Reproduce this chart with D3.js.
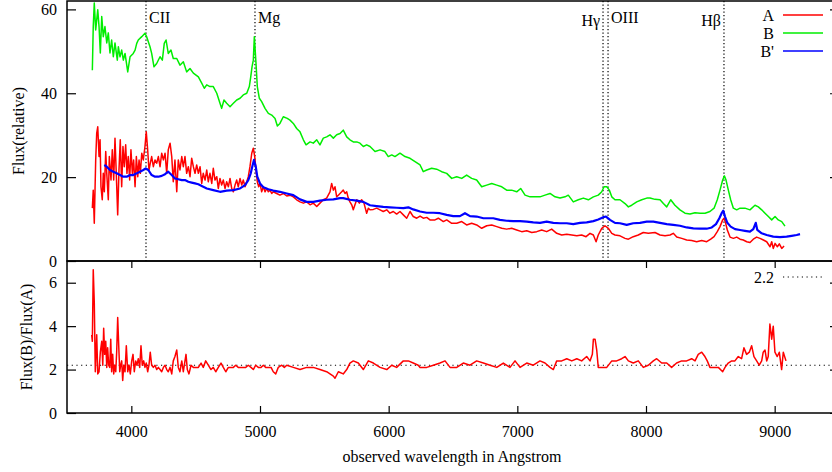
<!DOCTYPE html>
<html>
<head>
<meta charset="utf-8">
<script src="https://cdn.jsdelivr.net/npm/d3@7"></script>
<style>
  body { margin: 0; background: #fff; }
  text { font-family: "Liberation Serif", "Times New Roman", serif; font-size: 16px; fill: #000; }
</style>
</head>
<body>
<script>
// spectrum A (red), [wavelength, flux]
const specA = [[3697,12.6],[3704,16.9],[3712,9.0],[3723,24.1],[3731,30.5],[3739,32.0],[3749,24.9],[3757,28.9],[3764,17.7],[3774,14.6],[3782,20.9],[3790,16.5],[3801,26.1],[3809,20.9],[3821,14.6],[3829,24.9],[3842,19.3],[3852,26.5],[3863,19.3],[3873,29.3],[3883,20.9],[3894,11.0],[3904,21.7],[3914,28.9],[3925,17.7],[3935,27.3],[3945,22.5],[3956,27.7],[3966,20.9],[3976,24.9],[3987,19.3],[3997,26.5],[4008,20.9],[4018,24.1],[4029,17.7],[4039,24.9],[4050,20.1],[4060,24.1],[4070,20.9],[4081,25.7],[4093,24.1],[4106,27.3],[4116,30.8],[4127,26.5],[4137,21.7],[4147,23.3],[4158,24.9],[4171,22.5],[4184,24.1],[4197,23.3],[4210,24.9],[4223,22.5],[4236,25.7],[4249,24.1],[4262,25.7],[4275,20.9],[4287,26.5],[4301,28.1],[4314,24.9],[4326,18.9],[4339,24.1],[4353,16.5],[4365,24.1],[4378,21.7],[4392,24.9],[4404,22.5],[4417,24.9],[4430,20.9],[4443,22.5],[4456,20.1],[4469,24.5],[4482,22.5],[4495,20.9],[4508,22.9],[4521,20.9],[4534,22.5],[4547,18.5],[4559,20.9],[4573,19.3],[4586,21.7],[4598,18.9],[4611,20.9],[4625,18.5],[4637,22.1],[4650,19.3],[4664,20.1],[4676,17.3],[4689,19.7],[4702,18.1],[4715,19.3],[4728,17.3],[4741,18.9],[4754,17.7],[4767,19.7],[4780,17.3],[4793,16.5],[4806,18.1],[4819,19.3],[4831,17.7],[4845,19.7],[4858,18.1],[4870,19.3],[4884,17.7],[4897,18.9],[4909,20.1],[4922,22.5],[4936,25.7],[4948,26.9],[4959,24.9],[4969,21.7],[4979,18.9],[4990,17.7],[5000,18.5],[5013,16.5],[5026,17.7],[5039,16.5],[5052,17.3],[5065,16.5],[5078,16.9],[5091,16.1],[5103,16.5],[5130,16.1],[5155,15.7],[5181,16.1],[5208,15.5],[5233,15.7],[5259,15.3],[5285,14.6],[5311,14.1],[5337,13.8],[5363,14.1],[5389,13.4],[5414,13.8],[5441,13.0],[5466,13.8],[5492,14.6],[5518,15.0],[5544,16.5],[5557,18.5],[5570,16.9],[5583,17.7],[5596,15.3],[5609,15.7],[5622,16.1],[5635,16.5],[5647,16.9],[5661,16.1],[5674,16.5],[5686,15.0],[5699,14.1],[5713,13.4],[5725,12.2],[5738,13.4],[5752,14.6],[5772,13.8],[5790,14.6],[5808,13.8],[5829,11.4],[5842,12.6],[5855,12.2],[5881,12.3],[5907,12.6],[5933,12.2],[5958,11.8],[5985,12.2],[6010,11.4],[6036,11.8],[6062,11.2],[6088,11.8],[6114,11.0],[6140,10.2],[6166,11.8],[6191,10.6],[6218,10.2],[6244,10.7],[6269,10.2],[6296,10.4],[6321,9.8],[6360,9.8],[6386,10.2],[6425,9.4],[6451,9.8],[6490,9.0],[6529,9.0],[6568,9.4],[6606,8.6],[6645,9.0],[6684,8.6],[6723,7.8],[6762,8.4],[6801,8.6],[6840,8.2],[6879,7.8],[6917,7.6],[6956,7.8],[6995,7.4],[7034,7.0],[7073,7.2],[7112,6.8],[7151,7.0],[7189,7.4],[7228,7.0],[7267,7.6],[7306,6.6],[7345,6.2],[7384,6.4],[7423,6.2],[7462,6.0],[7500,6.2],[7534,5.8],[7565,6.6],[7591,6.2],[7612,4.6],[7629,6.2],[7656,7.8],[7681,8.4],[7707,7.8],[7734,6.6],[7759,6.2],[7798,6.0],[7837,5.4],[7863,5.2],[7901,5.8],[7940,6.2],[7979,6.8],[8018,6.6],[8070,6.8],[8109,6.2],[8148,6.0],[8187,6.2],[8212,6.6],[8239,5.7],[8278,5.4],[8316,5.0],[8355,4.9],[8394,4.6],[8433,4.9],[8472,4.6],[8503,5.2],[8529,5.8],[8554,7.0],[8575,8.2],[8596,9.8],[8606,10.2],[8616,9.4],[8632,7.4],[8653,5.7],[8679,5.4],[8705,5.7],[8731,5.2],[8756,5.0],[8783,4.6],[8808,4.4],[8834,5.2],[8860,5.7],[8886,5.4],[8912,5.0],[8938,4.6],[8964,3.4],[8977,4.6],[8989,3.0],[9003,4.2],[9021,3.4],[9036,4.1],[9055,3.0],[9073,3.6]];

// spectrum B (green)
const specB = [[3697,45.5],[3704,55.9],[3712,61.5],[3723,55.1],[3739,59.9],[3749,55.9],[3759,49.6],[3770,58.3],[3782,53.5],[3795,55.9],[3809,52.0],[3821,54.4],[3834,49.6],[3847,52.7],[3860,48.7],[3873,52.0],[3891,47.9],[3899,51.1],[3912,48.7],[3925,50.3],[3938,47.9],[3951,49.5],[3972,45.1],[3990,48.7],[4015,49.5],[4029,50.3],[4042,51.9],[4054,52.7],[4081,53.5],[4106,54.3],[4119,53.5],[4145,51.1],[4158,49.5],[4176,46.3],[4197,47.1],[4223,48.7],[4241,47.9],[4256,51.9],[4270,52.7],[4287,49.5],[4308,50.3],[4326,48.3],[4353,48.3],[4378,46.7],[4404,47.5],[4430,45.1],[4456,45.9],[4482,44.8],[4521,43.9],[4547,42.4],[4567,41.2],[4586,42.0],[4611,41.6],[4637,41.6],[4664,40.0],[4689,37.6],[4702,36.4],[4720,38.4],[4741,37.6],[4767,36.8],[4793,37.6],[4819,38.4],[4845,38.8],[4870,39.6],[4897,40.0],[4917,41.6],[4928,43.9],[4938,46.3],[4948,47.9],[4956,53.5],[4969,47.1],[4979,41.6],[4995,38.8],[5013,38.0],[5039,36.4],[5065,35.2],[5091,34.8],[5117,34.0],[5135,32.2],[5155,32.8],[5181,34.4],[5212,34.0],[5233,33.6],[5259,32.8],[5285,31.6],[5311,30.8],[5337,28.9],[5358,27.7],[5389,28.4],[5414,28.1],[5441,28.9],[5466,27.7],[5492,29.3],[5518,29.6],[5544,30.1],[5570,29.3],[5596,30.1],[5622,30.4],[5647,31.2],[5674,29.6],[5699,28.9],[5725,28.4],[5752,28.4],[5777,28.1],[5803,27.3],[5829,27.7],[5855,27.3],[5894,26.1],[5933,26.5],[5971,26.1],[5997,24.9],[6024,25.3],[6049,24.9],[6088,25.7],[6127,24.9],[6166,24.5],[6205,23.7],[6244,22.9],[6269,21.3],[6296,21.7],[6334,22.1],[6373,21.9],[6412,21.3],[6451,20.9],[6490,19.7],[6529,20.1],[6568,19.7],[6606,20.5],[6645,19.7],[6684,19.3],[6723,17.7],[6762,18.1],[6801,18.5],[6840,18.1],[6879,17.7],[6917,16.9],[6956,16.9],[6995,16.5],[7026,17.3],[7060,15.7],[7099,15.3],[7137,15.3],[7176,15.3],[7215,15.7],[7254,16.1],[7293,15.3],[7332,15.0],[7371,15.3],[7396,15.7],[7435,14.1],[7474,14.6],[7513,15.0],[7552,14.6],[7591,15.3],[7629,15.7],[7656,16.5],[7674,17.7],[7695,17.7],[7715,16.9],[7734,15.3],[7759,14.6],[7798,14.6],[7837,13.7],[7863,12.9],[7889,13.3],[7928,14.1],[7967,14.6],[8006,15.0],[8031,15.0],[8070,14.7],[8109,14.6],[8135,13.7],[8161,12.9],[8192,14.6],[8225,13.3],[8264,12.2],[8303,11.4],[8342,11.2],[8381,11.5],[8420,11.4],[8459,11.4],[8497,11.8],[8529,12.6],[8554,14.6],[8575,16.9],[8596,19.3],[8609,20.3],[8622,19.3],[8640,16.9],[8658,14.6],[8679,12.6],[8705,12.2],[8731,12.6],[8769,12.6],[8808,12.2],[8847,13.3],[8873,12.9],[8899,12.2],[8925,11.4],[8951,10.6],[8977,9.8],[9003,10.6],[9028,9.8],[9055,9.4],[9080,8.3]];

// spectrum B' (blue)
const specBp = [[3790,22.9],[3809,22.5],[3834,21.7],[3860,21.3],[3886,20.9],[3912,20.5],[3938,20.1],[3964,20.1],[3990,20.5],[4015,20.5],[4042,20.9],[4067,21.3],[4093,21.7],[4112,22.1],[4132,21.7],[4158,20.5],[4184,20.1],[4210,20.1],[4236,20.3],[4262,20.7],[4287,21.3],[4314,20.5],[4339,19.7],[4365,19.5],[4392,19.3],[4417,19.3],[4443,18.9],[4469,18.7],[4495,18.5],[4521,18.3],[4547,17.9],[4567,17.6],[4586,17.3],[4637,16.9],[4689,16.5],[4741,16.8],[4793,16.9],[4845,17.3],[4884,18.1],[4909,19.3],[4928,20.9],[4943,22.9],[4953,24.1],[4967,22.5],[4979,20.1],[5000,18.5],[5026,17.6],[5065,17.1],[5103,16.8],[5155,16.5],[5208,16.1],[5259,15.7],[5311,14.7],[5363,14.1],[5414,14.1],[5466,14.4],[5518,14.6],[5570,14.7],[5622,15.0],[5647,15.0],[5699,14.6],[5752,14.4],[5803,14.1],[5855,13.3],[5907,13.1],[5958,12.9],[6010,12.8],[6062,12.7],[6114,12.6],[6153,12.8],[6191,12.3],[6244,11.8],[6296,11.5],[6347,11.5],[6399,11.4],[6451,11.0],[6502,10.7],[6554,10.7],[6593,11.4],[6632,10.7],[6684,10.6],[6736,10.2],[6788,10.2],[6813,10.2],[6865,9.8],[6917,9.6],[6969,9.5],[7021,9.5],[7073,9.4],[7124,9.2],[7176,9.1],[7228,9.4],[7280,9.1],[7332,9.0],[7384,9.0],[7435,8.8],[7487,9.1],[7539,9.2],[7591,9.5],[7629,9.9],[7664,10.4],[7689,10.6],[7720,9.8],[7759,9.1],[7798,9.0],[7850,8.6],[7901,9.0],[7953,9.1],[8006,9.4],[8057,9.4],[8109,9.1],[8161,8.8],[8212,8.6],[8264,8.4],[8316,8.0],[8368,7.8],[8420,7.7],[8472,7.7],[8511,8.0],[8544,8.8],[8570,10.2],[8588,11.4],[8601,12.0],[8614,10.6],[8632,9.1],[8658,8.2],[8692,7.6],[8731,7.4],[8769,7.2],[8808,7.0],[8834,7.6],[8853,9.1],[8865,7.4],[8899,6.6],[8938,6.2],[8989,5.8],[9041,5.7],[9093,5.8],[9132,6.0],[9171,6.2],[9197,6.4]];

// flux(B)/flux(A)
const ratio = [[3692,3.6],[3697,3.3],[3704,6.6],[3712,5.1],[3720,1.9],[3731,3.6],[3739,1.8],[3749,1.9],[3759,2.8],[3770,3.3],[3778,2.2],[3785,3.9],[3793,2.7],[3801,3.3],[3809,2.1],[3816,3.0],[3824,2.2],[3832,2.1],[3840,3.4],[3847,1.9],[3855,2.7],[3863,1.8],[3871,2.2],[3879,1.9],[3886,2.8],[3894,4.4],[3902,3.1],[3910,1.9],[3917,2.2],[3925,2.4],[3933,1.5],[3941,2.2],[3951,1.9],[3961,3.1],[3972,1.9],[3982,2.2],[3992,1.8],[4003,2.4],[4013,2.7],[4023,1.9],[4034,2.4],[4044,2.2],[4054,2.5],[4065,2.1],[4075,3.1],[4085,2.2],[4096,2.4],[4106,2.1],[4116,2.3],[4127,1.9],[4137,2.2],[4147,2.8],[4158,2.2],[4171,2.1],[4184,2.2],[4197,2.0],[4210,2.1],[4223,2.0],[4236,1.9],[4249,2.1],[4262,2.2],[4275,2.0],[4287,1.9],[4301,2.1],[4314,1.8],[4326,2.4],[4339,2.6],[4353,2.9],[4365,2.1],[4378,1.9],[4392,2.4],[4404,1.9],[4417,2.4],[4425,2.7],[4435,2.0],[4448,1.8],[4464,2.2],[4482,2.1],[4500,2.1],[4521,2.1],[4542,2.3],[4559,2.1],[4578,2.4],[4598,2.2],[4619,2.0],[4637,2.1],[4656,1.9],[4676,2.1],[4697,2.3],[4715,2.1],[4734,1.9],[4754,2.1],[4775,2.1],[4793,2.1],[4811,2.2],[4831,2.1],[4852,2.1],[4870,2.1],[4889,2.1],[4909,2.2],[4930,2.1],[4948,2.0],[4967,2.2],[4987,2.1],[5008,2.1],[5026,2.2],[5044,2.1],[5065,2.1],[5086,2.1],[5103,1.9],[5122,1.8],[5142,2.1],[5169,2.2],[5189,2.1],[5208,2.2],[5259,2.1],[5311,2.0],[5363,2.1],[5414,2.1],[5466,2.0],[5518,1.9],[5570,1.7],[5583,1.6],[5609,1.9],[5647,1.8],[5674,2.0],[5699,2.3],[5725,2.4],[5764,2.3],[5803,2.0],[5842,2.4],[5881,2.3],[5933,2.1],[5985,2.0],[6024,2.2],[6062,2.1],[6114,2.4],[6153,2.4],[6191,2.3],[6230,2.2],[6244,2.1],[6296,2.1],[6347,2.2],[6399,2.3],[6438,2.4],[6477,2.1],[6529,2.1],[6580,2.3],[6632,2.2],[6684,2.4],[6736,2.3],[6788,2.2],[6840,2.1],[6891,2.3],[6943,2.1],[6982,2.4],[7021,2.1],[7073,2.3],[7124,2.2],[7176,2.4],[7215,2.3],[7254,2.1],[7280,2.0],[7306,2.4],[7345,2.4],[7384,2.5],[7423,2.4],[7462,2.5],[7500,2.4],[7539,2.6],[7565,2.4],[7583,2.7],[7591,3.4],[7604,3.4],[7617,2.9],[7629,2.1],[7656,2.1],[7695,2.1],[7734,2.4],[7772,2.4],[7811,2.5],[7837,2.6],[7863,2.4],[7901,2.3],[7940,2.4],[7979,2.1],[8018,2.2],[8057,2.4],[8083,2.5],[8122,2.3],[8161,2.3],[8199,2.1],[8238,2.3],[8277,2.4],[8316,2.4],[8355,2.5],[8381,2.4],[8406,2.7],[8433,2.8],[8458,2.6],[8476,2.4],[8497,2.1],[8523,2.1],[8562,2.1],[8596,1.9],[8614,2.1],[8639,2.3],[8666,2.4],[8691,2.4],[8717,2.6],[8743,2.5],[8761,3.0],[8782,2.7],[8803,2.8],[8821,3.1],[8839,2.6],[8860,2.4],[8880,2.2],[8899,2.4],[8911,2.8],[8925,2.9],[8938,2.4],[8950,2.6],[8963,4.1],[8977,3.4],[8989,4.0],[9002,2.8],[9020,2.6],[9036,2.8],[9054,2.0],[9067,2.8],[9088,2.4]];

// emission line markers
const lineNames = ['CII', 'Mg', 'H\u03b3', 'OIII', 'H\u03b2'];
const lineWaves = [4114, 4961, 7666, 7705, 8606];

const waveTicks = [4000, 5000, 6000, 7000, 8000, 9000];
const fluxTicks = [0, 20, 40, 60];
const ratioTicks = [0, 2, 4, 6];
const ratioRef = 2.2;

const W = 832, H = 472;
const left = 67, right = 839;

const svg = d3.select('body')
  .append('svg')
  .attr('width', W)
  .attr('height', H);

const x = d3.scaleLinear().domain([3500, 9500]).range([left, right]);
const yTop = d3.scaleLinear().domain([0, 62]).range([261, 1]);
const yBot = d3.scaleLinear().domain([0, 7]).range([413, 261]);

/* dotted line markers in top panel */
const markG = svg.append('g');
markG.selectAll('line')
  .data(lineWaves)
  .enter()
  .append('line')
  .attr('x1', d => x(d)).attr('x2', d => x(d))
  .attr('y1', 1).attr('y2', 261)
  .attr('stroke', '#000')
  .attr('stroke-width', 1.2)
  .attr('stroke-dasharray', '1.2,2.3');

// label placement: right of line for CII, Mg, OIII, left of line for H lines
const labelSide = [1, 1, -1, 1, -1];
const labelBase = [23, 23, 26, 23, 26];
markG.selectAll('text')
  .data(lineNames)
  .enter()
  .append('text')
  .attr('x', (d, i) => x(lineWaves[i]) + labelSide[i] * 3)
  .attr('y', (d, i) => labelBase[i])
  .attr('text-anchor', (d, i) => labelSide[i] > 0 ? 'start' : 'end')
  .text(d => d);

/* dotted 2.2 reference in bottom panel */
svg.append('line')
  .attr('x1', left).attr('x2', right)
  .attr('y1', yBot(ratioRef)).attr('y2', yBot(ratioRef))
  .attr('stroke', '#000')
  .attr('stroke-width', 1.2)
  .attr('stroke-dasharray', '1.2,3.5');

/* spectra */
const lineTop = d3.line().x(d => x(d[0])).y(d => yTop(d[1]));
const lineBot = d3.line().x(d => x(d[0])).y(d => yBot(d[1]));

const series = [
  { name: 'A', data: specA, color: '#ff0000', w: 1.5 },
  { name: 'B', data: specB, color: '#00ee00', w: 1.5 },
  { name: "B'", data: specBp, color: '#0000ff', w: 2.2 }
];

svg.append('g')
  .selectAll('path')
  .data(series)
  .enter()
  .append('path')
  .attr('d', d => lineTop(d.data))
  .attr('fill', 'none')
  .attr('stroke', d => d.color)
  .attr('stroke-width', d => d.w)
  .attr('stroke-linejoin', 'round');

svg.append('path')
  .datum(ratio)
  .attr('d', lineBot)
  .attr('fill', 'none')
  .attr('stroke', '#ff0000')
  .attr('stroke-width', 1.5)
  .attr('stroke-linejoin', 'round');

/* axes (ticks point inward) */
function clean(g) {
  g.select('.domain').remove();
  g.selectAll('.tick line').attr('stroke', '#000').attr('stroke-width', 1.2);
  g.selectAll('.tick text').attr('fill', '#000').style('font-size', '16px')
    .style('font-family', '"Liberation Serif", "Times New Roman", serif');
}

const intFmt = d3.format('d');

svg.append('g').attr('transform', `translate(${left},0)`)
  .call(d3.axisLeft(yTop).tickValues(fluxTicks).tickSize(-9).tickPadding(10).tickFormat(intFmt))
  .call(clean);
svg.append('g').attr('transform', `translate(${right},0)`)
  .call(d3.axisRight(yTop).tickValues(fluxTicks).tickSize(-9).tickFormat(''))
  .call(clean);

svg.append('g').attr('transform', `translate(${left},0)`)
  .call(d3.axisLeft(yBot).tickValues(ratioTicks).tickSize(-9).tickPadding(10).tickFormat(intFmt))
  .call(clean);
svg.append('g').attr('transform', `translate(${right},0)`)
  .call(d3.axisRight(yBot).tickValues(ratioTicks).tickSize(-9).tickFormat(''))
  .call(clean);

svg.append('g').attr('transform', 'translate(0,413)')
  .call(d3.axisBottom(x).tickValues(waveTicks).tickSize(-7).tickPadding(13).tickFormat(intFmt))
  .call(clean);
svg.append('g').attr('transform', 'translate(0,261)')
  .call(d3.axisTop(x).tickValues(waveTicks).tickSize(-7).tickFormat(''))
  .call(clean);

/* frames */
svg.append('rect')
  .attr('x', left).attr('y', 1)
  .attr('width', right - left).attr('height', 260)
  .attr('fill', 'none').attr('stroke', '#000').attr('stroke-width', 1.5);
svg.append('rect')
  .attr('x', left).attr('y', 261)
  .attr('width', right - left).attr('height', 152)
  .attr('fill', 'none').attr('stroke', '#000').attr('stroke-width', 1.5);

/* legends */
const leg = svg.append('g');
series.forEach((s, i) => {
  const ly = 15 + i * 18;
  leg.append('text')
    .attr('x', 774).attr('y', ly)
    .attr('text-anchor', 'end')
    .attr('dominant-baseline', 'central')
    .text(s.name);
  leg.append('line')
    .attr('x1', 783).attr('x2', 823)
    .attr('y1', ly).attr('y2', ly)
    .attr('stroke', s.color)
    .attr('stroke-width', 1.5);
});

leg.append('text')
  .attr('x', 774).attr('y', 277)
  .attr('text-anchor', 'end')
  .attr('dominant-baseline', 'central')
  .text(String(ratioRef));
leg.append('line')
  .attr('x1', 783).attr('x2', 823)
  .attr('y1', 277).attr('y2', 277)
  .attr('stroke', '#000')
  .attr('stroke-width', 1.2)
  .attr('stroke-dasharray', '1.2,3.5');

/* axis titles */
svg.append('text')
  .attr('transform', 'translate(18,131) rotate(-90)')
  .attr('text-anchor', 'middle')
  .attr('dominant-baseline', 'central')
  .text('Flux(relative)');
svg.append('text')
  .attr('transform', 'translate(26,337) rotate(-90)')
  .attr('text-anchor', 'middle')
  .attr('dominant-baseline', 'central')
  .text('Flux(B)/Flux(A)');
svg.append('text')
  .attr('x', 452).attr('y', 462)
  .attr('text-anchor', 'middle')
  .text('observed wavelength in Angstrom');
</script>
</body>
</html>
